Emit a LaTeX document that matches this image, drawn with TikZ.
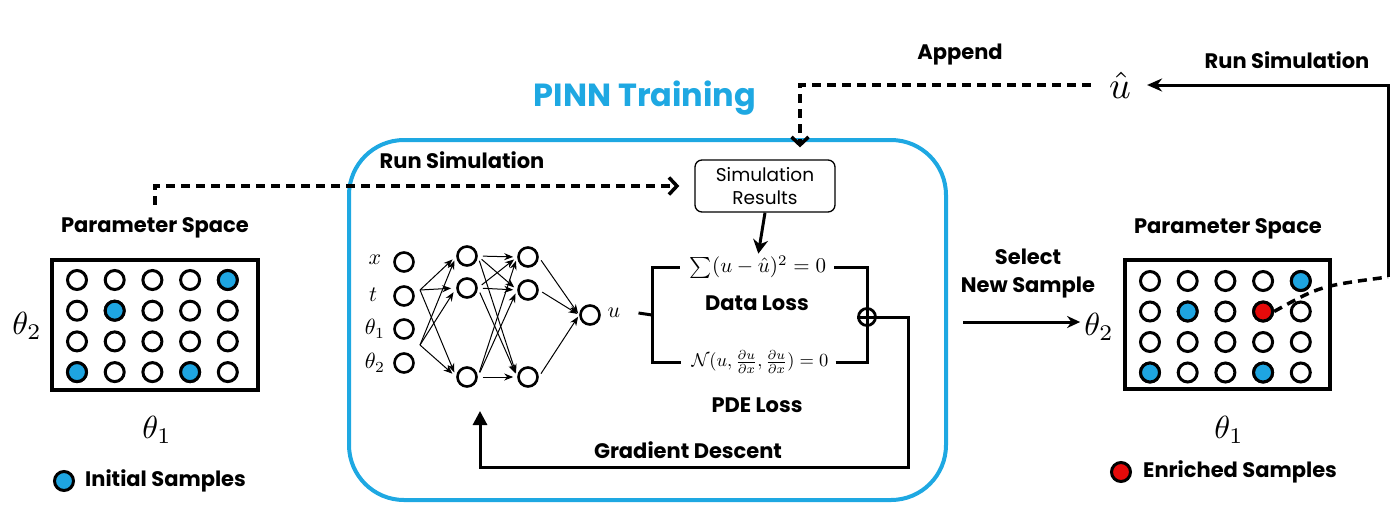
\documentclass[tikz,border=0pt]{standalone}
\usepackage{fontspec}
\setmainfont{Poppins}
\usetikzlibrary{arrows.meta, positioning, calc}
\definecolor{pinn_blue}{RGB}{30,168,226}
\definecolor{sample_blue}{RGB}{30,165,225}
\definecolor{sample_red}{RGB}{230,10,10}

\begin{document}
\begin{tikzpicture}[x=1pt, y=-1pt, >={Stealth},
    lbl/.style={font=\bfseries\fontsize{21}{28}\selectfont, inner sep=0pt, align=center},
    bigmath/.style={inner sep=0pt},
    nnmath/.style={inner sep=0pt},
    fmath/.style={inner sep=0pt},
    pt/.style={circle, draw, line width=3pt, minimum size=19pt, inner sep=0pt, fill=white},
    neuron/.style={circle, draw, line width=2.6pt, minimum size=19pt, inner sep=0pt},
    space/.style={draw, line width=4pt, minimum width=206pt, minimum height=130pt},
    dashline/.style={line width=3.5pt, dash pattern=on 9pt off 6pt},
    thinarrow/.style={line width=1pt, -{Stealth[length=9pt, width=7pt]}},
    thickline/.style={line width=3pt}]
  \useasboundingbox (0,0) rectangle (1400,515);

  % left parameter space
  \node[space] (lbox) at (155,324.5) {};
  \foreach \i in {1,...,5}
    \foreach \j in {1,...,4}
      \node[pt] (L-\i-\j) at ({77+37.7*(\i-1)}, {280+30.7*(\j-1)}) {};
  \foreach \i/\j in {5/1, 2/2, 1/4, 4/4}
    \node[pt, fill=sample_blue] at (L-\i-\j) {};
  \node[lbl] (lps) at (155,228) {Parameter Space};
  \node[bigmath] (lth2) at (27,326) {\scalebox{3.2}{$\theta_2$}};
  \node[bigmath] (lth1) at (157,430) {\scalebox{3.2}{$\theta_1$}};
  \node[pt, fill=sample_blue] (lleg) at (64,481) {};
  \node[lbl, anchor=west] at (85,481) {Initial Samples};

  % PINN training box
  \node[draw=pinn_blue, line width=4pt, rounded corners=55pt, minimum width=597pt, minimum height=360pt] (pinn) at (647.5,320) {};
  \node[font=\bfseries\fontsize{32}{36}\selectfont, text=pinn_blue, inner sep=0pt] at (645,98) {PINN Training};
  \node[lbl] at (462,160) {Run Simulation};
  \node[draw, line width=1.3pt, rounded corners=7pt, minimum width=140pt, minimum height=52pt, align=center, font=\fontsize{18.5}{23}\selectfont] (simres) at (765,186) {Simulation\\Results};

  % network
  \node[neuron] (in1) at (404,262) {};
  \node[neuron] (in2) at (404,296) {};
  \node[neuron] (in3) at (404,329) {};
  \node[neuron] (in4) at (404,363) {};
  \node[nnmath] at (375,260) {\scalebox{2.2}{$x$}};
  \node[nnmath] at (373,295) {\scalebox{2.2}{$t$}};
  \node[nnmath] at (375,329) {\scalebox{2.2}{$\theta_1$}};
  \node[nnmath] at (375,363) {\scalebox{2.2}{$\theta_2$}};
  \node[neuron] (h1-1) at (467,256) {};
  \node[neuron] (h1-2) at (467,288) {};
  \node[neuron] (h1-3) at (467,377) {};
  \node[neuron] (h2-1) at (528,257) {};
  \node[neuron] (h2-2) at (528,290) {};
  \node[neuron] (h2-3) at (528,377) {};
  \node[neuron] (out) at (590,315) {};
  \node[nnmath] (ulbl) at (614,313) {\scalebox{2.2}{$u$}};
  \coordinate (sa) at (420,290);
  \coordinate (sb) at (420,345);
  \foreach \k in {1,2,3} {
    \draw[thinarrow, shorten >=5pt] (sa) -- (h1-\k.west);
    \draw[thinarrow, shorten >=5pt] (sb) -- (h1-\k.west);
    \draw[thinarrow, shorten <=4pt, shorten >=2pt] (h2-\k.east) -- (out.west);
    \foreach \m in {1,2,3}
      \draw[thinarrow, shorten <=5pt, shorten >=4pt] (h1-\k.east) -- (h2-\m.west);
  }

  % losses
  \node[fmath] (dataf) at (758,267) {\scalebox{2.1}{$\sum(u-\hat{u})^2=0$}};
  \node[lbl] at (757,303) {Data Loss};
  \node[fmath] (pdef) at (760,362) {\scalebox{1.85}{$\mathcal{N}(u,\frac{\partial u}{\partial x},\frac{\partial u}{\partial x})=0$}};
  \node[lbl] at (757,405) {PDE Loss};
  \node[circle, draw, line width=2.8pt, minimum size=17pt, inner sep=0pt] (plus) at (867,317) {};
  \draw[thickline] (plus.west) -- (plus.east) (plus.north) -- (plus.south);
  \coordinate (bl) at (652,315);
  \draw[thickline] ([xshift=-10pt]dataf.west |- 0,267) -| (bl) |- ([xshift=-10pt]pdef.west);
  \draw[thickline] ([xshift=18pt]ulbl.east) -- (bl);
  \draw[thickline] ([xshift=8pt]dataf.east |- 0,267) -| (plus.north);
  \draw[thickline] ([xshift=7pt]pdef.east) -| (plus.south);
  \draw[thickline, -{Stealth[length=14pt, width=15pt]}, shorten >=2pt] (simres.south) -- (dataf.north);

  % gradient descent loop
  \coordinate (gd) at (908,467);
  \coordinate (gdend) at (480,411);
  \draw[thickline, -{Triangle[length=14pt, width=14pt]}] (plus.east) -| (gd) -| (gdend);
  \node[lbl] at (688,450) {Gradient Descent};

  % run simulation into the box
  \draw[dashline, -{Straight Barb[length=8pt, width=17pt, line width=3.5pt]}, shorten >=15pt]
    ([yshift=13pt]lps.north) |- (simres.west);

  % right parameter space
  \node[space, minimum width=205pt, minimum height=129pt] (rbox) at (1227.5,324.5) {};
  \foreach \i in {1,...,5}
    \foreach \j in {1,...,4}
      \node[pt] (R-\i-\j) at ({1150+37.7*(\i-1)}, {281+30.5*(\j-1)}) {};
  \foreach \i/\j in {5/1, 2/2, 1/4, 4/4}
    \node[pt, fill=sample_blue] at (R-\i-\j) {};
  \node[pt, fill=sample_red] at (R-4-2) {};
  \node[lbl] (rps) at (1228,229) {Parameter Space};
  \node[bigmath] (rth2) at (1099,327) {\scalebox{3.2}{$\theta_2$}};
  \node[bigmath] (rth1) at (1229,430) {\scalebox{3.2}{$\theta_1$}};
  \node[pt, fill=sample_red] (rleg) at (1121,472) {};
  \node[lbl, anchor=west] at (1143,472) {Enriched Samples};

  % select new sample
  \node[lbl] at (1028,274) {Select\\New Sample};
  \draw[thickline, -{Stealth[length=13pt, width=12pt]}, shorten <=15pt, shorten >=4pt]
    ([yshift=-2pt]pinn.east) -- ([yshift=-2pt]pinn.east -| rth2.west);

  % enrichment loop
  \node[bigmath] (uhat) at (1120,85) {\scalebox{3.8}{$\hat{u}$}};
  \coordinate (rcorner) at (1388,277);
  \draw[dashline] (R-4-2.east) .. controls (1320,286) .. (rcorner);
  \draw[thickline, -{Stealth[length=15pt, width=13pt]}, shorten >=16pt] (rcorner) |- (uhat.east);
  \node[lbl] at (1287,60) {Run Simulation};
  \draw[dashline, -{Straight Barb[length=8pt, width=17pt, line width=3.5pt]}, shorten <=18pt, shorten >=12pt]
    (uhat.west) -| ([xshift=35pt]simres.north);
  \node[lbl] at (960,55) {Append};
\end{tikzpicture}
\end{document}
